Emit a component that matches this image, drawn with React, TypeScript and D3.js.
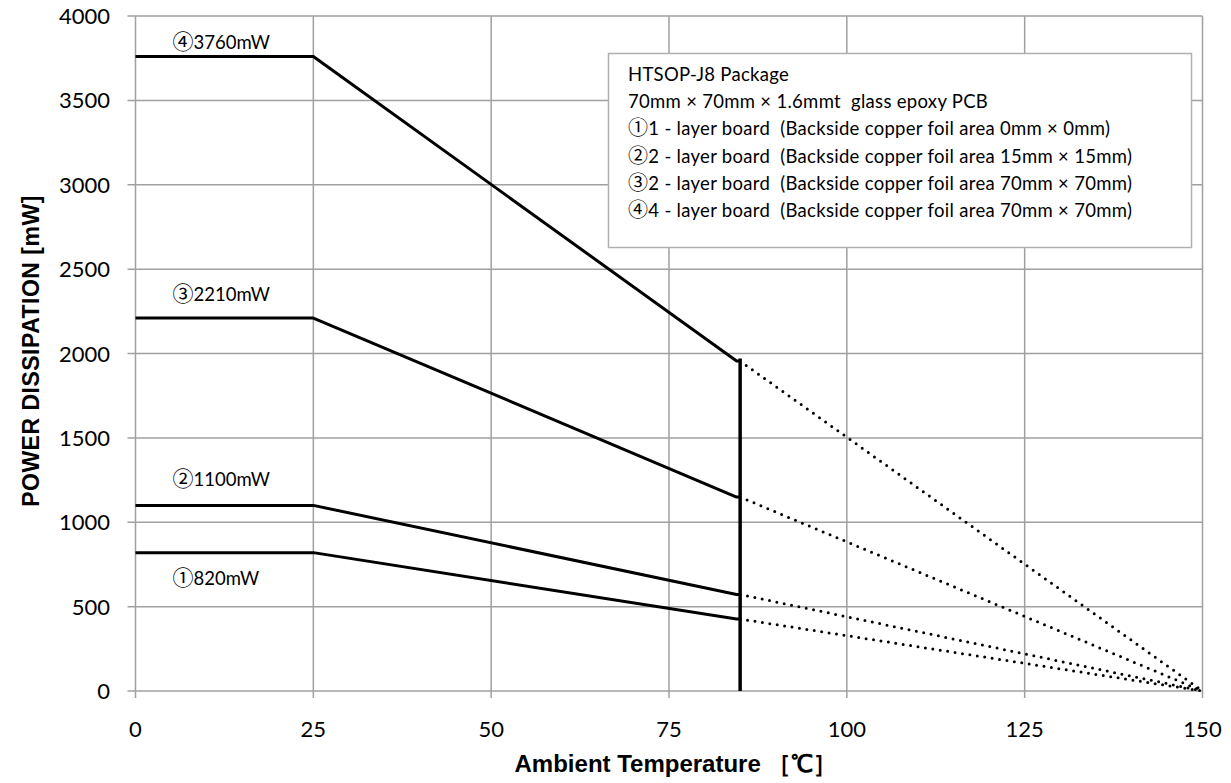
import React from "react";
import * as d3 from "d3";

const xTicks = [0, 25, 50, 75, 100, 125, 150];
const yTicks = [0, 500, 1000, 1500, 2000, 2500, 3000, 3500, 4000];
const maxPower = [820, 1100, 2210, 3760];
const flatEnd = 25;
const limitTemp = 85;
const zeroTemp = 150;
const labelMarks = ["①", "②", "③", "④"];
const labelTexts = ["820mW", "1100mW", "2210mW", "3760mW"];
const legendHeader = ["HTSOP-J8 Package", "70mm × 70mm × 1.6mmt  glass epoxy PCB"];
const legendMarks = ["①", "②", "③", "④"];
const legendItems = [
  "1 - layer board  (Backside copper foil area 0mm × 0mm)",
  "2 - layer board  (Backside copper foil area 15mm × 15mm)",
  "2 - layer board  (Backside copper foil area 70mm × 70mm)",
  "4 - layer board  (Backside copper foil area 70mm × 70mm)",
];

const W = 1231, H = 783;
const L = 135.5, R = 1202.5, T = 16, B = 691;

export default function App() {
  const x = d3.scaleLinear().domain([0, 150]).range([L, R]);
  const y = d3.scaleLinear().domain([0, 4000]).range([B, T]);
  const line = d3.line<[number, number]>().x(d => x(d[0])).y(d => y(d[1]));
  const derate = (p: number, t: number) => p * (zeroTemp - t) / (zeroTemp - flatEnd);
  const font = "Lato, sans-serif";
  const cjk = "'Noto Sans CJK JP', sans-serif";
  const boldFont = "'Liberation Sans', Arial, sans-serif";
  const vTop = derate(maxPower[3], limitTemp) + 15;
  const labelDy = [32, -19, -17, -8];
  return (
    <svg width={W} height={H} style={{ position: "absolute", left: 0, top: 0 }}>
      <rect width={W} height={H} fill="#fff" />
      {yTicks.map(v => (
        <line key={"gy" + v} x1={L - 8} x2={R} y1={y(v)} y2={y(v)} stroke="#a0a0a0" strokeWidth={1.5} />
      ))}
      {xTicks.map(v => (
        <line key={"gx" + v} x1={x(v)} x2={x(v)} y1={T} y2={B + 7} stroke="#a0a0a0" strokeWidth={1.5} />
      ))}
      {yTicks.map(v => (
        <text key={"ty" + v} x={110} y={y(v) + 8} textAnchor="end" fontFamily={font} fontSize={22} fill="#000">{v}</text>
      ))}
      {xTicks.map(v => (
        <text key={"tx" + v} x={x(v)} y={737} textAnchor="middle" fontFamily={font} fontSize={22} fill="#000">{v}</text>
      ))}
      {maxPower.map((p, i) => (
        <path key={"d" + i} d={line([[limitTemp, derate(p, limitTemp)], [zeroTemp, 0]]) || ""} fill="none" stroke="#000" strokeWidth={3} strokeDasharray="0 7.5" strokeLinecap="round" />
      ))}
      {maxPower.map((p, i) => (
        <path key={"s" + i} d={line([[0, p], [flatEnd, p], [limitTemp - 0.5, derate(p, limitTemp)], [limitTemp, derate(p, limitTemp)]]) || ""} fill="none" stroke="#000" strokeWidth={3} strokeLinejoin="round" />
      ))}
      <line x1={x(limitTemp)} x2={x(limitTemp)} y1={y(vTop)} y2={y(0)} stroke="#000" strokeWidth={3.5} />
      {maxPower.map((p, i) => (
        <text key={"l" + i} x={x(5.2)} y={y(p) + labelDy[i]} fontFamily={font} fontSize={18.5} fill="#000">
          <tspan fontFamily={cjk} fontSize={21}>{labelMarks[i]}</tspan>
          <tspan>{labelTexts[i]}</tspan>
        </text>
      ))}
      <rect x={608.5} y={53.5} width={583} height={194} fill="#fff" stroke="#b0b0b0" strokeWidth={1.5} />
      {legendHeader.map((t, i) => (
        <text key={"lh" + i} x={628} y={81 + i * 27.2} fontFamily={font} fontSize={18.5} letterSpacing={0.3} fill="#000" style={{ whiteSpace: "pre" }}>{t}</text>
      ))}
      {legendItems.map((t, i) => (
        <text key={"li" + i} x={628} y={81 + (i + 2) * 27.2} fontFamily={font} fontSize={18.5} letterSpacing={0.3} fill="#000" style={{ whiteSpace: "pre" }}>
          <tspan fontFamily={cjk} fontSize={20}>{legendMarks[i]}</tspan>
          <tspan>{t}</tspan>
        </text>
      ))}
      <text x={676} y={772} textAnchor="middle" fontFamily={boldFont} fontWeight="bold" fontSize={24} style={{ whiteSpace: "pre" }}>{"Ambient Temperature ［℃］"}</text>
      <text transform={`translate(39, 351) rotate(-90)`} textAnchor="middle" fontFamily={boldFont} fontWeight="bold" fontSize={23} letterSpacing={0.5}>POWER DISSIPATION [mW]</text>
    </svg>
  );
}
